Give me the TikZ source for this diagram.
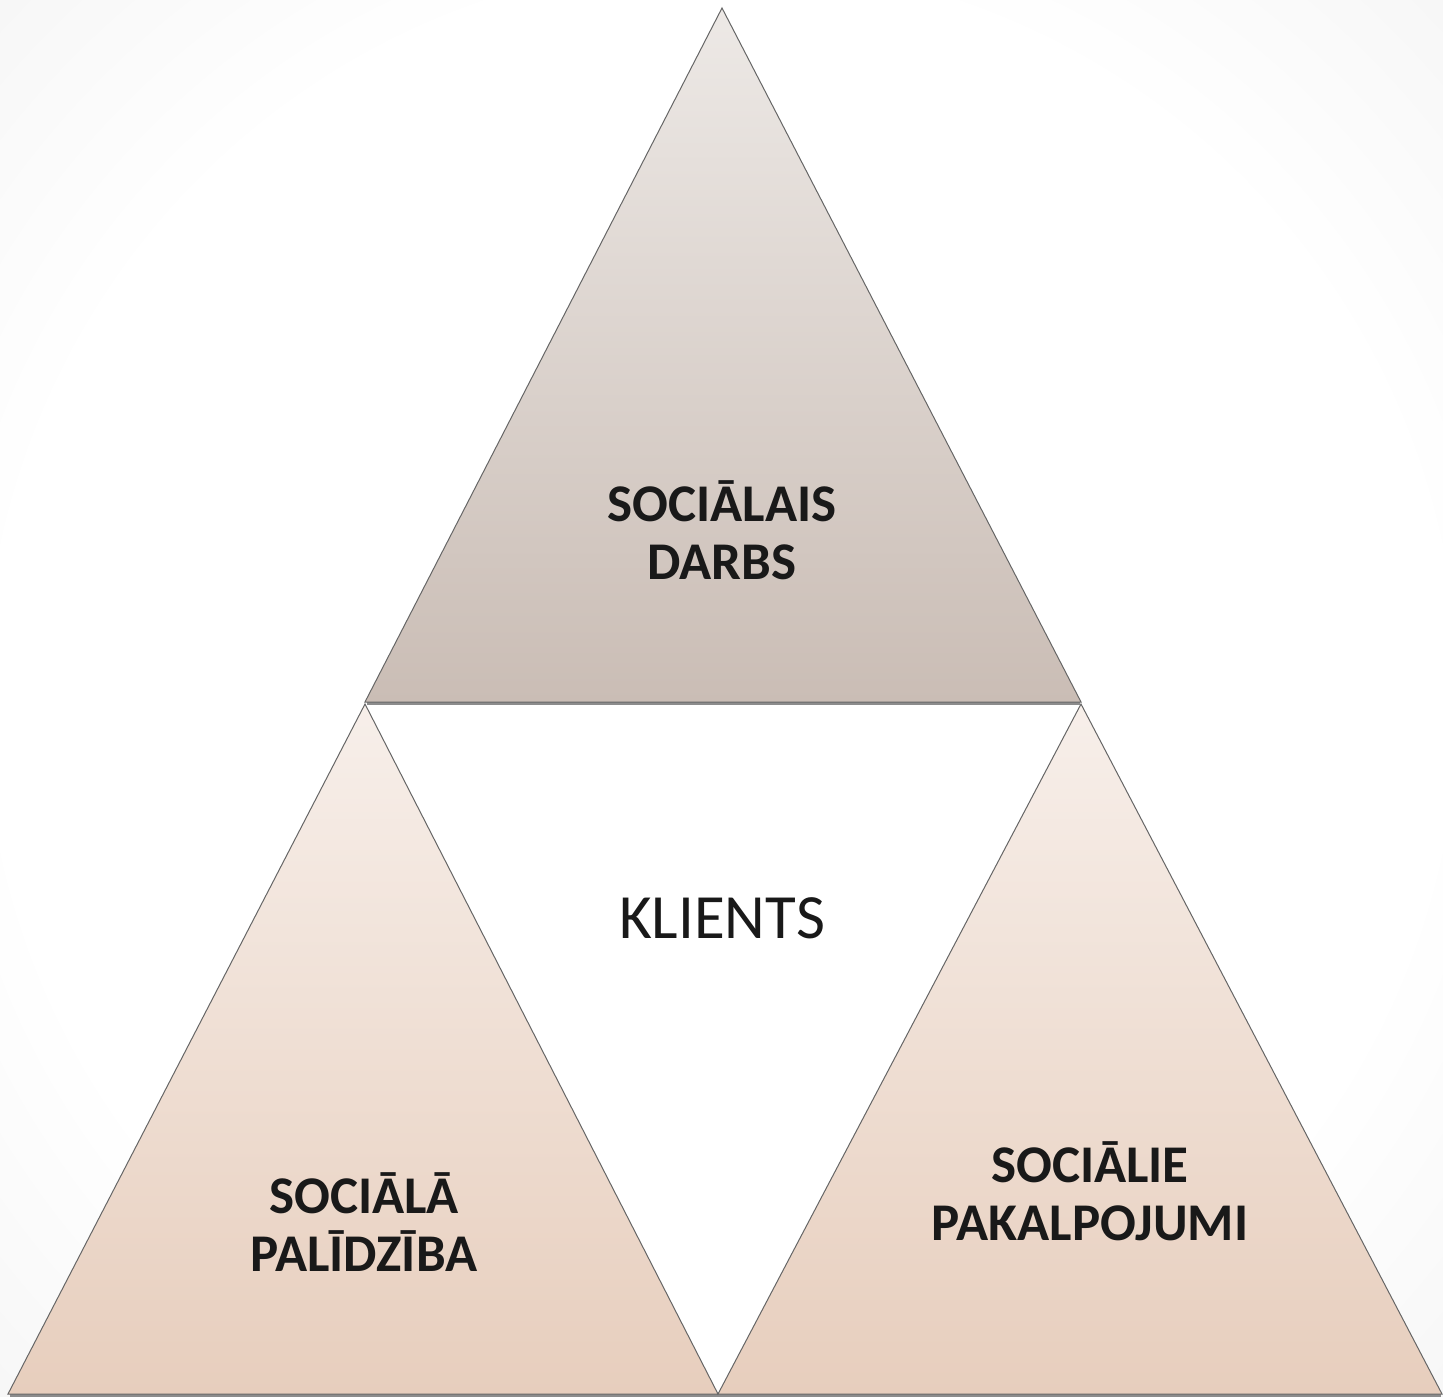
\documentclass[tikz,border=0pt]{standalone}
\usepackage{fontspec}
\setmainfont{Carlito}
\pgfdeclareradialshading{vignette}{\pgfpoint{0bp}{0bp}}{color(0bp)=(white); color(9bp)=(white); color(19bp)=(black!9); color(50bp)=(black!9)}
\begin{document}
\begin{tikzpicture}[x=1pt,y=-1pt,
  tri/.style={draw=black!60,line width=1pt,line join=miter},
  topfill/.style={top color={rgb,255:red,237;green,233;blue,230},bottom color={rgb,255:red,202;green,189;blue,181}},
  botfill/.style={top color={rgb,255:red,247;green,239;blue,234},bottom color={rgb,255:red,231;green,206;blue,189}},
  lbl/.style={font=\fontsize{53}{58}\selectfont\bfseries,align=center,text=black!90},
  mid/.style={font=\fontsize{63}{68}\selectfont,text=black!90}]
\useasboundingbox (0,0) rectangle (1443,1397);
\shade[shading=vignette] (-1279,-1302) rectangle (2721,2698);
% shadow lines
\draw[black!45,line width=3pt] (367,703) -- (1080,703);
\draw[black!45,line width=3pt] (10,1395) -- (1441,1395);
% triangles
\coordinate (tA) at (722,8);
\coordinate (tL) at (365,702);
\coordinate (tR) at (1081,702);
\coordinate (lA) at (365,704);
\coordinate (lL) at (8,1394);
\coordinate (lR) at (718,1394);
\coordinate (rA) at (1081,704);
\coordinate (rL) at (718,1394);
\coordinate (rR) at (1442,1394);
\path[tri,topfill] (tA) -- (tL) -- (tR) -- cycle;
\path[tri,botfill] (lA) -- (lL) -- (lR) -- cycle;
\path[tri,botfill] (rA) -- (rL) -- (rR) -- cycle;
\node[lbl] (sd) at (722,530) {SOCIĀLAIS\\DARBS};
\node[mid] (kl) at (722,918) {KLIENTS};
\node[lbl] (sp) at (364,1222) {SOCIĀLĀ\\PALĪDZĪBA};
\node[lbl] (spk) at (1090,1191) {SOCIĀLIE\\PAKALPOJUMI};
\end{tikzpicture}
\end{document}
